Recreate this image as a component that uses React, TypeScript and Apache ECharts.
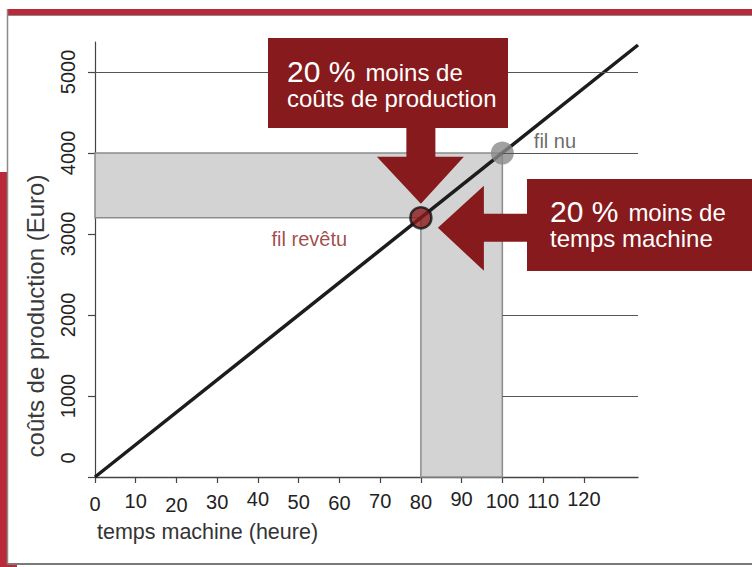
import React, { useEffect, useRef } from "react";
import * as echarts from "echarts";

const xTicks = [0, 10, 20, 30, 40, 50, 60, 70, 80, 90, 100, 110, 120];
const yTicks = [0, 1000, 2000, 3000, 4000, 5000];
const xMax = 133.3;
const yMax = 5370;
const lineX = [0, 133.3];
const lineY = [0, 5333];
const pointNames = ["fil nu", "fil revêtu"];
const pointX = [100, 80];
const pointY = [4000, 3200];
// horizontal guide segments: [xStart, xEnd, y]
const gridSegments = [
  [0, 133.3, 5000],
  [100, 133.3, 4000],
  [100, 133.3, 2000],
  [100, 133.3, 1000],
];
// jitter (px) of the x tick labels in the original drawing
const labelJitter = [3, 0, 4, 1, -2, 1, 2, 0, 1, -2, 0, 0, -2];

const FONT = "'Liberation Sans', Arial, Helvetica, sans-serif";
const DARK_RED = "#861a1c";
const FRAME_RED = "#b8293a";

function buildGraphic(px: number, py: number) {
  const tTipX = px;
  const tTipY = py - 14;
  const topBox = { x: 268, y: 38, w: 240, h: 90 };
  const topArrow = [
    [tTipX - 14.5, topBox.y + topBox.h - 1],
    [tTipX + 14.5, topBox.y + topBox.h - 1],
    [tTipX + 14.5, tTipY - 47],
    [tTipX + 43, tTipY - 47],
    [tTipX, tTipY],
    [tTipX - 44, tTipY - 47],
    [tTipX - 14.5, tTipY - 47],
  ];
  const rTipX = px + 17;
  const rTipY = py + 10;
  const rBox = { x: 527, y: 179, w: 240, h: 92 };
  const rightArrow = [
    [rBox.x + 1, rTipY - 14],
    [rBox.x + 1, rTipY + 14],
    [rTipX + 46, rTipY + 14],
    [rTipX + 46, rTipY + 43],
    [rTipX, rTipY],
    [rTipX + 46, rTipY - 42],
    [rTipX + 46, rTipY - 14],
  ];
  const white = "#ffffff";
  const boxRich = {
    a: { fontSize: 30, fontFamily: FONT, color: white, verticalAlign: "bottom", lineHeight: 29 },
    b: { fontSize: 24, fontFamily: FONT, color: white, verticalAlign: "bottom", lineHeight: 24, padding: [0, 0, 2, 10] },
    c: { fontSize: 24, fontFamily: FONT, color: white, lineHeight: 24 },
  };
  return [
    // frame
    { type: "rect", shape: { x: 0, y: 172, width: 7, height: 395 }, style: { fill: FRAME_RED }, z: 0, silent: true },
    { type: "rect", shape: { x: 0, y: 564, width: 17, height: 3 }, style: { fill: FRAME_RED }, z: 0, silent: true },
    { type: "rect", shape: { x: 7, y: 9, width: 745, height: 6 }, style: { fill: FRAME_RED }, z: 0, silent: true },
    { type: "line", shape: { x1: 7, y1: 15.5, x2: 752, y2: 15.5 }, style: { stroke: "#8a8a8a", lineWidth: 1 }, z: 0, silent: true },
    { type: "line", shape: { x1: 7.5, y1: 9, x2: 7.5, y2: 564 }, style: { stroke: "#8a8a8a", lineWidth: 1.5 }, z: 0, silent: true },
    { type: "line", shape: { x1: 7, y1: 564, x2: 752, y2: 564 }, style: { stroke: "#7a7a7a", lineWidth: 2 }, z: 0, silent: true },
    // callouts
    { type: "polygon", shape: { points: topArrow }, style: { fill: DARK_RED }, z: 10, silent: true },
    { type: "rect", shape: { x: topBox.x, y: topBox.y, width: topBox.w, height: topBox.h }, style: { fill: DARK_RED }, z: 10, silent: true },
    { type: "polygon", shape: { points: rightArrow }, style: { fill: DARK_RED }, z: 10, silent: true },
    { type: "rect", shape: { x: rBox.x, y: rBox.y, width: rBox.w, height: rBox.h }, style: { fill: DARK_RED }, z: 10, silent: true },
    {
      type: "text", x: 287, y: 57, z: 11, silent: true,
      style: { text: "{a|20 %}{b|moins de}\n{c|coûts de production}", rich: boxRich, fill: white, font: `24px ${FONT}` },
    },
    {
      type: "text", x: 550, y: 197, z: 11, silent: true,
      style: { text: "{a|20 %}{b|moins de}\n{c|temps machine}", rich: boxRich, fill: white, font: `24px ${FONT}` },
    },
  ];
}

export default function App() {
  const ref = useRef<HTMLDivElement>(null);
  useEffect(() => {
    if (!ref.current) return;
    const chart = echarts.init(ref.current, null, { renderer: "svg" });
    const rich: Record<string, any> = {};
    xTicks.forEach((_, i) => {
      rich["j" + i] = {
        fontSize: 20,
        fontFamily: FONT,
        color: "#222",
        padding: [4 + labelJitter[i], 0, 0, 0],
      };
    });
    const option: any = {
      animation: false,
      backgroundColor: "#ffffff",
      grid: { left: 95, top: 42, width: 543, height: 435, containLabel: false },
      xAxis: {
        type: "value",
        min: 0,
        max: xMax,
        interval: 10,
        axisLine: { lineStyle: { color: "#444", width: 1.3 } },
        axisTick: { customValues: xTicks, length: 6, lineStyle: { color: "#444", width: 1.2 } },
        axisLabel: {
          customValues: xTicks,
          margin: 10,
          formatter: (v: number) => {
            const i = xTicks.indexOf(Math.round(v));
            return `{j${i < 0 ? 0 : i}|${Math.round(v)}}`;
          },
          rich,
        },
        splitLine: { show: false },
        name: "temps machine (heure)",
        nameLocation: "middle",
        nameGap: 44,
        nameTextStyle: { fontSize: 21.5, fontFamily: FONT, color: "#333", padding: [0, 318, 0, 0] },
      },
      yAxis: {
        type: "value",
        min: 0,
        max: yMax,
        interval: 1000,
        axisLine: { show: true, lineStyle: { color: "#444", width: 1.2 } },
        axisTick: { show: true, customValues: yTicks, length: 7, lineStyle: { color: "#444", width: 1.2 } },
        axisLabel: {
          customValues: yTicks,
          rotate: 90,
          margin: 17,
          formatter: (v: number) => (v === 0 ? "{z|0}" : `{n|${v}}`),
          rich: {
            n: { fontSize: 20, fontFamily: FONT, color: "#222" },
            z: { fontSize: 20, fontFamily: FONT, color: "#222", padding: [0, 0, 0, 38] },
          },
        },
        splitLine: { show: false },
        name: "coûts de production (Euro)",
        nameLocation: "middle",
        nameGap: 48,
        nameTextStyle: { fontSize: 24, fontFamily: FONT, color: "#3a3a3a", padding: [0, 113, 0, 0] },
      },
      series: [
        {
          type: "custom",
          name: "shade",
          silent: true,
          z: 1,
          clip: false,
          data: [[pointX[1], pointY[1]]],
          renderItem: (_params: any, api: any) => {
            const c = (x: number, y: number) => api.coord([x, y]);
            const xa = pointX[1];
            const xb = pointX[0];
            const ya = pointY[1];
            const yb = pointY[0];
            return {
              type: "polygon",
              shape: {
                points: [c(0, yb), c(xb, yb), c(xb, 0), c(xa, 0), c(xa, ya), c(0, ya)],
              },
              style: { fill: "#d3d3d3", stroke: "#8c8c8c", lineWidth: 1.5 },
            };
          },
        },
        {
          type: "line",
          name: "guides",
          data: [],
          silent: true,
          z: 2,
          markLine: {
            silent: true,
            symbol: ["none", "none"],
            label: { show: false },
            lineStyle: { color: "#555", width: 1, type: "solid" },
            data: gridSegments.map(([x0, x1, y]) => [{ coord: [x0, y] }, { coord: [x1, y] }]),
          },
        },
        {
          type: "line",
          name: "coût",
          data: lineX.map((x, i) => [x, lineY[i]]),
          symbol: "none",
          silent: true,
          z: 3,
          clip: false,
          lineStyle: { color: "#1c1c1c", width: 3.5 },
        },
        {
          type: "scatter",
          name: "points",
          z: 4,
          silent: true,
          data: [
            {
              name: pointNames[0],
              value: [pointX[0], pointY[0]],
              symbolSize: 23,
              itemStyle: { color: "#8a8a8a" },
              label: {
                show: true,
                position: "right",
                offset: [15, -12],
                color: "#444",
                fontSize: 20,
                fontFamily: FONT,
                formatter: "{b}",
              },
            },
            {
              name: pointNames[1],
              value: [pointX[1], pointY[1]],
              symbolSize: 21,
              itemStyle: { color: "#8b1a1a", borderColor: "#111", borderWidth: 2.5 },
              label: {
                show: true,
                position: "left",
                offset: [-57, 21],
                color: "#8b1a1a",
                fontSize: 20,
                fontFamily: FONT,
                formatter: "{b}",
              },
            },
          ],
        },
      ],
    };
    chart.setOption(option);
    const [px, py] = chart.convertToPixel({ gridIndex: 0 }, [pointX[1], pointY[1]]) as number[];
    chart.setOption({ graphic: buildGraphic(px, py) });
    return () => chart.dispose();
  }, []);
  return (
    <div
      ref={ref}
      style={{ position: "fixed", left: 0, top: 0, width: 752, height: 567, background: "#fff" }}
    />
  );
}
